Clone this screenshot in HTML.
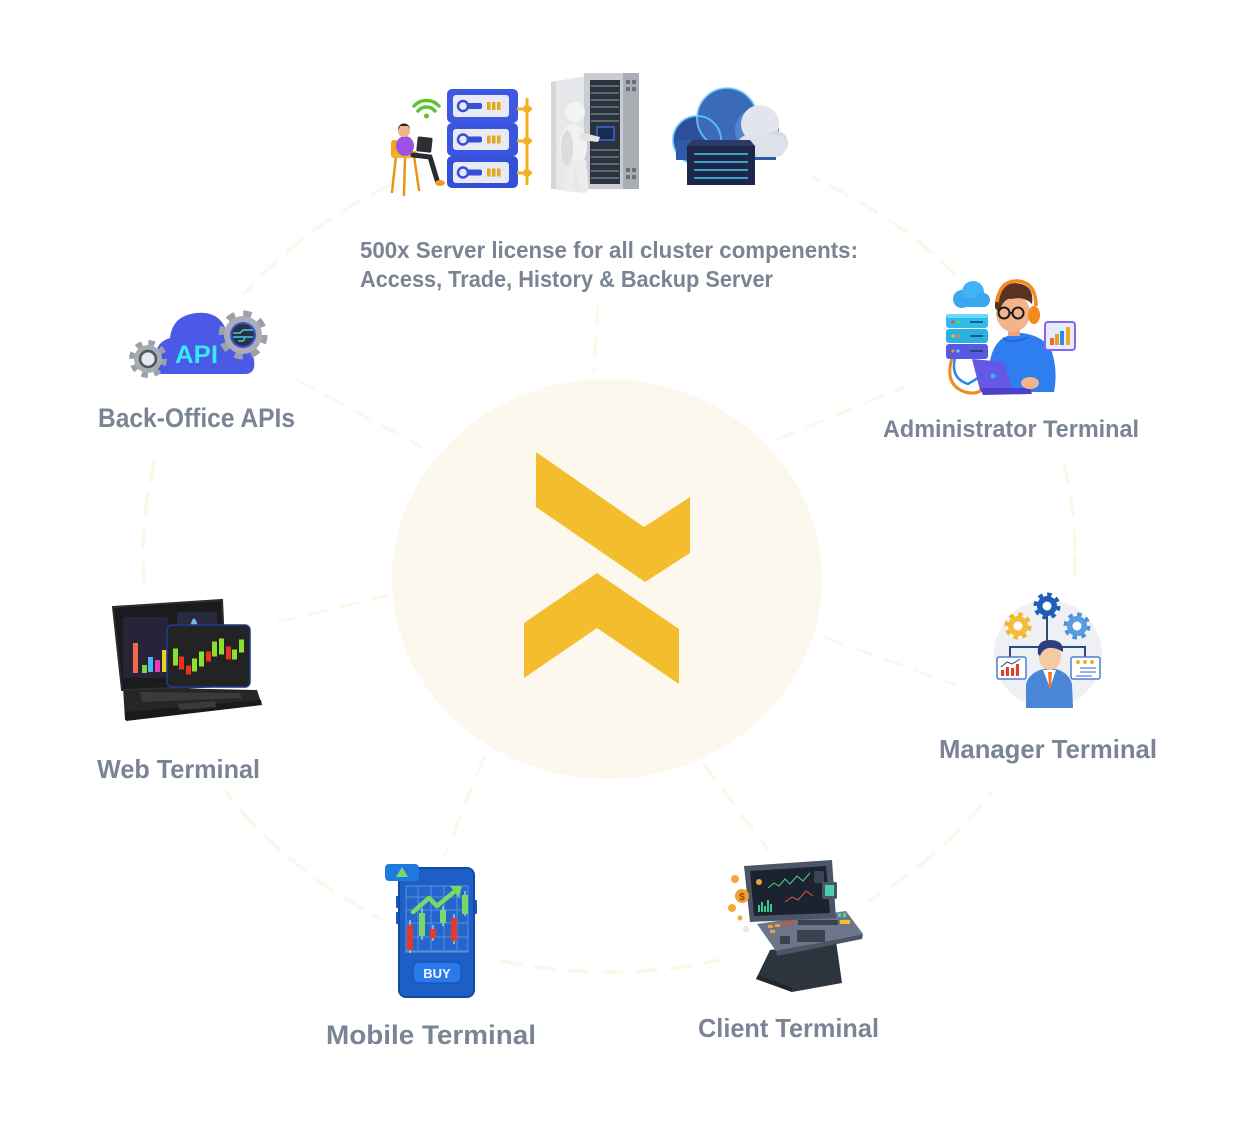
<!DOCTYPE html>
<html><head><meta charset="utf-8"><style>
html,body{margin:0;padding:0;background:#fff;}
svg{display:block;}
.lbl{font-family:"Liberation Sans",Arial,sans-serif;font-weight:bold;fill:#7b8494;}
</style></head><body>
<svg width="1250" height="1139" viewBox="0 0 1250 1139" xmlns="http://www.w3.org/2000/svg">
<rect width="1250" height="1139" fill="#fff"/>
<!-- big dashed ellipse -->
<ellipse cx="609" cy="554" rx="466" ry="418" fill="none" stroke="#fdf7ea" stroke-width="3.5" stroke-dasharray="22 12"/>
<!-- masks -->
<g fill="#fff">
<rect x="392" y="50" width="420" height="185"/>
<rect x="90" y="295" width="210" height="153"/>
<rect x="90" y="592" width="180" height="198"/>
<rect x="380" y="850" width="115" height="210"/>
<rect x="722" y="850" width="146" height="210"/>
<rect x="930" y="580" width="240" height="212"/>
<rect x="880" y="275" width="270" height="177"/>
</g>
<!-- radial dashed lines -->
<g stroke="#fdf7ea" stroke-width="3.2" stroke-dasharray="20 12" fill="none">
<line x1="598" y1="305" x2="594" y2="372"/>
<line x1="297" y1="380" x2="422" y2="447"/>
<line x1="776" y1="440" x2="904" y2="387"/>
<line x1="390" y1="595" x2="278" y2="622"/>
<line x1="484" y1="757" x2="444" y2="857"/>
<line x1="703" y1="763" x2="768" y2="850"/>
<line x1="824" y1="637" x2="955" y2="685"/>
</g>
<!-- center -->
<ellipse cx="607" cy="579" rx="215" ry="200" fill="#fdf8ee"/>
<polygon points="536,452 644,527 690,497 690,553 645,582 536,507" fill="#f3bd2d"/>
<polygon points="524,623 597,573 679,629 679,684 597,628 524,678" fill="#f3bd2d"/>

<!-- ===== TOP: person + servers ===== -->
<g>
<g fill="none" stroke="#5fc232" stroke-width="3.5" stroke-linecap="round">
<path d="M414,106 A17,17 0 0 1 439,106"/>
<path d="M418,111 A11,11 0 0 1 435,111"/>
</g>
<circle cx="426.5" cy="116" r="2.5" fill="#5fc232"/>
<g stroke="#e8941a" stroke-width="2.5" stroke-linecap="round">
<line x1="396" y1="156" x2="392" y2="192"/>
<line x1="405" y1="157" x2="404" y2="195"/>
<line x1="414" y1="156" x2="419" y2="190"/>
</g>
<rect x="391" y="140" width="8" height="18" rx="3" fill="#f2a71e"/>
<rect x="392" y="151" width="26" height="7" rx="3" fill="#f5b026"/>
<path d="M413,155 L430,157 L437,180" stroke="#2a2a33" stroke-width="5" fill="none" stroke-linecap="round"/>
<ellipse cx="440" cy="183" rx="5" ry="3" fill="#f09a2a"/>
<ellipse cx="405" cy="146" rx="9" ry="10" fill="#9c52e6"/>
<circle cx="404" cy="131" r="6" fill="#f0b48a"/>
<path d="M398,130 a6,6 0 0 1 12,-1 l-2,-3 -8,0z" fill="#2a2230"/>
<rect x="417" y="137" width="15" height="15" rx="1.5" fill="#2d2d33" transform="rotate(6 424 144)"/>
<g>
<rect x="447" y="89" width="71" height="34" rx="5" fill="#3d58e2"/>
<rect x="447" y="123" width="71" height="33" rx="5" fill="#3a55df"/>
<rect x="447" y="156" width="71" height="32" rx="5" fill="#3550d8"/>
<rect x="453" y="95" width="56" height="22" rx="3" fill="#e9eaf4"/>
<rect x="453" y="129" width="56" height="21" rx="3" fill="#e9eaf4"/>
<rect x="453" y="162" width="56" height="21" rx="3" fill="#e9eaf4"/>
<g fill="none" stroke="#3550d8" stroke-width="2.5">
<circle cx="463" cy="106" r="5"/><circle cx="463" cy="139.5" r="5"/><circle cx="463" cy="172.5" r="5"/>
</g>
<g fill="#3550d8">
<rect x="467" y="103" width="15" height="6" rx="2"/><rect x="467" y="136.5" width="15" height="6" rx="2"/><rect x="467" y="169.5" width="15" height="6" rx="2"/>
</g>
<g fill="#e2a81e">
<rect x="487" y="102" width="3.5" height="8"/><rect x="492" y="102" width="3.5" height="8"/><rect x="497" y="102" width="3.5" height="8"/>
<rect x="487" y="135.5" width="3.5" height="8"/><rect x="492" y="135.5" width="3.5" height="8"/><rect x="497" y="135.5" width="3.5" height="8"/>
<rect x="487" y="168.5" width="3.5" height="8"/><rect x="492" y="168.5" width="3.5" height="8"/><rect x="497" y="168.5" width="3.5" height="8"/>
</g>
<line x1="527" y1="98" x2="527" y2="185" stroke="#f0b020" stroke-width="3"/>
<g stroke="#f0b020" stroke-width="3"><line x1="517" y1="109" x2="532" y2="109"/><line x1="517" y1="141" x2="532" y2="141"/><line x1="517" y1="173" x2="532" y2="173"/></g>
<g fill="#f0b020"><circle cx="527" cy="109" r="4"/><circle cx="527" cy="141" r="4"/><circle cx="527" cy="173" r="4"/></g>
</g>
<g>
<polygon points="551,82 586,76 586,193 551,189" fill="#e6e7ea"/>
<polygon points="551,82 556,81 556,189 551,189" fill="#d3d5d9"/>
<rect x="584" y="73" width="55" height="116" fill="#c9ccd1"/>
<rect x="623" y="73" width="16" height="116" fill="#a9adb4"/>
<rect x="590" y="80" width="30" height="104" fill="#2c323c"/>
<g stroke="#6c7b8c" stroke-width="1.5">
<line x1="591" y1="86" x2="619" y2="86"/><line x1="591" y1="93" x2="619" y2="93"/><line x1="591" y1="100" x2="619" y2="100"/>
<line x1="591" y1="107" x2="619" y2="107"/><line x1="591" y1="114" x2="619" y2="114"/><line x1="591" y1="121" x2="619" y2="121"/>
<line x1="591" y1="150" x2="619" y2="150"/><line x1="591" y1="157" x2="619" y2="157"/><line x1="591" y1="164" x2="619" y2="164"/>
<line x1="591" y1="171" x2="619" y2="171"/><line x1="591" y1="178" x2="619" y2="178"/>
</g>
<g fill="#6a6f78">
<rect x="626" y="80" width="4" height="4"/><rect x="632" y="80" width="4" height="4"/><rect x="626" y="87" width="4" height="4"/><rect x="632" y="87" width="4" height="4"/>
<rect x="626" y="168" width="4" height="4"/><rect x="632" y="168" width="4" height="4"/><rect x="626" y="175" width="4" height="4"/><rect x="632" y="175" width="4" height="4"/>
</g>
<rect x="597" y="127" width="17" height="13" fill="#1a2a50" stroke="#3a6ad0" stroke-width="1.5"/>
<ellipse cx="573" cy="146" rx="14" ry="22" fill="#f1f1f1"/>
<circle cx="575" cy="112" r="10" fill="#f3f3f3"/>
<path d="M565,160 L563,191 L572,192 L575,165 L580,192 L589,191 L586,160z" fill="#ececec"/>
<path d="M580,132 L600,137 L598,142 L580,140z" fill="#e4e4e4"/>
<ellipse cx="567" cy="148" rx="6" ry="18" fill="#dcdcdc"/>
</g>
<g>
<circle cx="697" cy="140" r="24" fill="#2d4f9a"/>
<circle cx="727" cy="118" r="30" fill="#3a6ab8"/>
<circle cx="757" cy="130" r="22" fill="#4f86cc"/>
<circle cx="697" cy="140" r="24" fill="none" stroke="#5fd0ff" stroke-width="2" opacity="0.8"/>
<circle cx="727" cy="118" r="30" fill="none" stroke="#7ad8ff" stroke-width="2" opacity="0.7"/>
<rect x="676" y="140" width="100" height="20" fill="#2f5aa6"/>
<circle cx="760" cy="124" r="19" fill="#e2e5ec"/>
<circle cx="776" cy="143" r="12" fill="#d6dae3"/>
<rect x="738" y="135" width="48" height="22" rx="10" fill="#dde1e9"/>
<rect x="687" y="146" width="68" height="39" fill="#1c274a"/>
<polygon points="687,146 755,146 750,140 692,140" fill="#2b3a66"/>
<g stroke="#4fc8f0" stroke-width="1.5">
<line x1="694" y1="154" x2="748" y2="154"/><line x1="694" y1="162" x2="748" y2="162"/><line x1="694" y1="170" x2="748" y2="170"/><line x1="694" y1="178" x2="748" y2="178"/>
</g>
</g>
</g>

<!-- ===== API ===== -->
<g>
<path d="M160,374 L245,374 Q256,374 254,360 L250,340 Q240,328 228,336 Q222,310 196,313 Q172,316 170,338 Q156,342 156,356 Q155,374 160,374z" fill="#4a5ae6"/>
<text x="175" y="363" font-family="Liberation Sans,Arial,sans-serif" font-weight="bold" font-size="25" fill="#35e8f2" textLength="43" lengthAdjust="spacingAndGlyphs">API</text>
<circle cx="148" cy="359" r="16" fill="none" stroke="#9ca0a8" stroke-width="6" stroke-dasharray="6.3 6.3"/>
<circle cx="148" cy="359" r="14" fill="#a7abb3"/>
<circle cx="148" cy="359" r="8" fill="none" stroke="#505560" stroke-width="2.5"/>
<circle cx="148" cy="359" r="6.5" fill="#e6e8ec"/>
<circle cx="243" cy="335" r="21" fill="none" stroke="#9ca0a8" stroke-width="7" stroke-dasharray="8.2 8.3"/>
<circle cx="243" cy="335" r="19" fill="#a9adb5"/>
<circle cx="243" cy="335" r="13" fill="#3d4ed8"/>
<circle cx="243" cy="335" r="11" fill="#2c3142"/>
<g stroke="#3fd0d8" stroke-width="1.5" fill="none">
<path d="M233,333 L240,333 L243,330 L253,330"/><path d="M233,337 L247,337 L253,337"/><path d="M238,341 L243,341 L245,338"/>
</g>
</g>

<!-- ===== WEB laptop ===== -->
<g>
<polygon points="123,687 257,690 261,702 125,720" fill="#262628"/>
<polygon points="125,712 261,700 262,705 126,721" fill="#1a1a1c"/>
<g fill="#3a3a3d">
<polygon points="140,692 240,693 242,698 142,702"/>
<polygon points="178,704 215,701 216,707 180,710"/>
</g>
<polygon points="113,607 222,600 226,686 122,690" fill="#1b1b1e" stroke="#2d2d30" stroke-width="2"/>
<rect x="123" y="617" width="45" height="61" rx="2" fill="#272338"/>
<rect x="177" y="612" width="40" height="15" rx="2" fill="#272a40"/>
<path d="M190,627 Q194,610 198,627z" fill="#7ab8f0"/>
<rect x="133" y="643" width="5" height="30" fill="#f06a4a"/>
<rect x="142" y="665" width="5" height="8" fill="#7ad83a"/>
<rect x="148" y="657" width="5" height="15" fill="#4ab8f0"/>
<rect x="155" y="660" width="5" height="12" fill="#e83ab8"/>
<rect x="162" y="650" width="5" height="22" fill="#e8d020"/>
<rect x="167" y="625" width="83" height="62" rx="5" fill="#232323" stroke="#1d3c90" stroke-width="1.5"/>
<g stroke-width="1">
<g fill="#8ae02a" stroke="#8ae02a"><rect x="173.5" y="649" width="4" height="16"/><rect x="192.5" y="659" width="4" height="12"/><rect x="199.5" y="652" width="4" height="14"/><rect x="212.5" y="642" width="4" height="14"/><rect x="219.5" y="639" width="4" height="15"/><rect x="232.5" y="650" width="4" height="9"/><rect x="239.5" y="640" width="4" height="12"/></g>
<g fill="#f0301a" stroke="#f0301a"><rect x="179.5" y="657" width="4" height="12"/><rect x="186.5" y="666" width="4" height="8"/><rect x="206.5" y="652" width="4" height="9"/><rect x="226.5" y="647" width="4" height="12"/></g>
</g>
</g>

<!-- ===== ADMIN ===== -->
<g>
<circle cx="962" cy="299" r="9" fill="#3aaaf0"/>
<circle cx="973" cy="292" r="11" fill="#42b2f4"/>
<circle cx="983" cy="300" r="7" fill="#3aa6ee"/>
<rect x="955" y="298" width="33" height="9" rx="4" fill="#3aa6ee"/>
<path d="M952,358 Q944,385 965,392 Q980,396 985,385" fill="none" stroke="#f08a20" stroke-width="3"/>
<path d="M955,358 Q950,378 968,384 L978,378" fill="none" stroke="#2a8ae8" stroke-width="2.5"/>
<rect x="946" y="314" width="42" height="14" rx="3" fill="#30bce8"/>
<rect x="946" y="314" width="42" height="4" rx="2" fill="#6ad8f6"/>
<rect x="946" y="329" width="42" height="14" rx="3" fill="#2ab0e2"/>
<rect x="946" y="344" width="42" height="15" rx="3" fill="#5858e0"/>
<g><circle cx="953" cy="322" r="1.6" fill="#f04a4a"/><circle cx="958" cy="322" r="1.6" fill="#5ad84a"/><circle cx="953" cy="336" r="1.6" fill="#f0c020"/><circle cx="958" cy="336" r="1.6" fill="#f08a20"/><circle cx="953" cy="351" r="1.6" fill="#f08a20"/><circle cx="958" cy="351" r="1.6" fill="#5ad8f0"/></g>
<g stroke="#1a3a60" stroke-width="1.5"><line x1="970" y1="322" x2="983" y2="322"/><line x1="970" y1="336" x2="983" y2="336"/><line x1="970" y1="351" x2="983" y2="351"/></g>
<path d="M990,392 Q985,350 1003,338 Q1013,333 1022,333 Q1045,336 1052,352 Q1058,372 1054,392z" fill="#2f7ef0"/>
<path d="M1003,338 Q1013,345 1028,337" fill="none" stroke="#1f66d8" stroke-width="2"/>
<rect x="1008" y="326" width="12" height="10" fill="#eaa47e"/>
<ellipse cx="1013" cy="313" rx="17" ry="19" fill="#f2b48c"/>
<path d="M995,308 Q994,285 1015,283 Q1035,284 1032,304 Q1024,296 1012,299 Q1004,297 999,312z" fill="#5a3222"/>
<g fill="none" stroke="#1d1d1d" stroke-width="2"><circle cx="1004" cy="313" r="5.5"/><circle cx="1018" cy="313" r="5.5"/><line x1="1009.5" y1="313" x2="1012.5" y2="313"/></g>
<path d="M997,302 Q1000,280 1018,281 Q1036,283 1036,306" fill="none" stroke="#f58a1f" stroke-width="3.5"/>
<ellipse cx="1034" cy="315" rx="6" ry="9" fill="#f58a1f"/>
<polygon points="972,359 1004,362 1013,392 980,390" fill="#6658e6"/>
<polygon points="980,388 1030,388 1032,394 983,395" fill="#4c40c8"/>
<circle cx="993" cy="376" r="2.5" fill="#3ab0f0"/>
<ellipse cx="1030" cy="383" rx="9" ry="6" fill="#f2b48c"/>
<rect x="1045" y="322" width="30" height="28" rx="3" fill="#e4ecff" stroke="#8a62f0" stroke-width="2"/>
<g><rect x="1050" y="338" width="4" height="7" fill="#f06a30"/><rect x="1055" y="334" width="4" height="11" fill="#f09a20"/><rect x="1060" y="331" width="4" height="14" fill="#2a8ae8"/><rect x="1066" y="327" width="4" height="18" fill="#f0a820"/></g>
</g>

<!-- ===== MANAGER ===== -->
<g>
<circle cx="1048" cy="654" r="54" fill="#eff0f3"/>
<g stroke="#2a4a86" stroke-width="2" fill="none">
<line x1="1047" y1="615" x2="1047" y2="648"/>
<polyline points="1010,658 1010,647 1085,647 1085,658"/>
</g>
<circle cx="1047" cy="606" r="11.5" fill="none" stroke="#1f5eb8" stroke-width="4" stroke-dasharray="4.5 4.5"/>
<circle cx="1047" cy="606" r="10" fill="#1f5eb8"/><circle cx="1047" cy="606" r="4.5" fill="#fff"/>
<circle cx="1018" cy="626" r="11.5" fill="none" stroke="#f2b42a" stroke-width="4" stroke-dasharray="4.5 4.5"/>
<circle cx="1018" cy="626" r="10" fill="#f4bc3a"/><circle cx="1018" cy="626" r="4.5" fill="#fff"/>
<circle cx="1077" cy="626" r="11.5" fill="none" stroke="#4a90dc" stroke-width="4" stroke-dasharray="4.5 4.5"/>
<circle cx="1077" cy="626" r="10" fill="#5a9ce0"/><circle cx="1077" cy="626" r="4.5" fill="#fff"/>
<rect x="997" y="657" width="29" height="22" rx="2" fill="#fff" stroke="#4a80d0" stroke-width="1.5"/>
<g fill="#e83a2a"><rect x="1001" y="670" width="3" height="6"/><rect x="1006" y="667" width="3" height="9"/><rect x="1011" y="668" width="3" height="8"/><rect x="1016" y="664" width="3" height="12"/></g>
<polyline points="1001,667 1007,662 1012,664 1020,659" fill="none" stroke="#2a4a86" stroke-width="1"/>
<rect x="1071" y="657" width="29" height="22" rx="2" fill="#fff" stroke="#4a80d0" stroke-width="1.5"/>
<g fill="#f0b020"><circle cx="1078" cy="662" r="2"/><circle cx="1085" cy="662" r="2"/><circle cx="1092" cy="662" r="2"/></g>
<g stroke="#4a80d0" stroke-width="1.2"><line x1="1080" y1="668" x2="1096" y2="668"/><line x1="1080" y1="672" x2="1096" y2="672"/><line x1="1076" y1="676" x2="1092" y2="676"/></g>
<path d="M1026,708 L1026,684 Q1030,670 1050,668 Q1068,670 1072,684 L1073,708z" fill="#4a86d8"/>
<polygon points="1043,670 1050,688 1056,670" fill="#fff"/>
<polygon points="1048,672 1052,672 1051,688 1049,688" fill="#f07a2a"/>
<ellipse cx="1050" cy="657" rx="11" ry="13" fill="#f6caa2"/>
<path d="M1038,654 Q1036,640 1050,640 Q1064,640 1063,652 Q1056,647 1048,648 Q1042,650 1040,656z" fill="#2b3f7c"/>
</g>

<!-- ===== MOBILE ===== -->
<g>
<rect x="396" y="896" width="4" height="12" rx="1" fill="#1a56c0"/>
<rect x="396" y="912" width="4" height="12" rx="1" fill="#1a56c0"/>
<rect x="473" y="900" width="4" height="14" rx="1" fill="#1a56c0"/>
<rect x="399" y="868" width="75" height="129" rx="7" fill="#1e5fc6" stroke="#1149a8" stroke-width="2"/>
<rect x="406" y="886" width="62" height="66" fill="#2366cc"/>
<g stroke="#5b8fdc" stroke-width="1">
<line x1="406" y1="897" x2="468" y2="897"/><line x1="406" y1="910" x2="468" y2="910"/><line x1="406" y1="923" x2="468" y2="923"/><line x1="406" y1="937" x2="468" y2="937"/><line x1="406" y1="951" x2="468" y2="951"/>
<line x1="418" y1="886" x2="418" y2="952"/><line x1="431" y1="886" x2="431" y2="952"/><line x1="444" y1="886" x2="444" y2="952"/><line x1="457" y1="886" x2="457" y2="952"/>
<rect x="406" y="886" width="62" height="66" fill="none"/>
</g>
<g stroke="#f0f0f0" stroke-width="1"><line x1="410" y1="920" x2="410" y2="953"/><line x1="422" y1="908" x2="422" y2="940"/><line x1="433" y1="925" x2="433" y2="941"/><line x1="443" y1="906" x2="443" y2="926"/><line x1="454" y1="914" x2="454" y2="944"/><line x1="465" y1="891" x2="465" y2="916"/></g>
<g fill="#e8382a"><rect x="407" y="925" width="6" height="25"/><rect x="430" y="929" width="6" height="9"/><rect x="451" y="918" width="6" height="23"/></g>
<g fill="#7ad866"><rect x="419" y="913" width="6" height="23"/><rect x="440" y="910" width="6" height="13"/><rect x="462" y="895" width="6" height="19"/></g>
<polyline points="413,912 429,898 437,906 454,892" fill="none" stroke="#7ad866" stroke-width="4.5" stroke-linejoin="round" stroke-linecap="round"/>
<polygon points="450,886 462,886 459,898" fill="#7ad866"/>
<rect x="385" y="864" width="34" height="17" rx="4" fill="#1f7ae0"/>
<polygon points="402,867 408,877 396,877" fill="#7ad866"/>
<rect x="413" y="962" width="48" height="21" rx="6" fill="#2a7aea" stroke="#1758c0" stroke-width="1.5"/>
<text x="437" y="978" text-anchor="middle" font-family="Liberation Sans,Arial,sans-serif" font-weight="bold" font-size="13" fill="#f2f6ff">BUY</text>
</g>

<!-- ===== CLIENT ===== -->
<g>
<polygon points="770,950 836,941 842,983 792,992 756,979" fill="#2e343e"/>
<polygon points="756,979 792,992 792,988 758,975" fill="#22262e"/>
<polygon points="757,924 846,911 863,934 776,951" fill="#6b7788"/>
<polygon points="776,951 863,934 862,939 777,956" fill="#4c5563"/>
<g fill="#f0a030"><rect x="768" y="925" width="5" height="3"/><rect x="775" y="924" width="5" height="3"/><rect x="770" y="930" width="5" height="3"/></g>
<g fill="#e84a3a"><rect x="782" y="922" width="5" height="3"/><rect x="789" y="921" width="5" height="3"/></g>
<g fill="#3a4250"><rect x="780" y="936" width="10" height="8"/><rect x="797" y="930" width="28" height="12"/><rect x="798" y="920" width="40" height="5"/></g>
<g fill="#f0c030"><rect x="840" y="920" width="10" height="4"/></g>
<g fill="#5ad0a0"><rect x="838" y="913" width="3" height="4"/><rect x="843" y="913" width="3" height="4"/></g>
<polygon points="744,866 832,860 836,918 750,922" fill="#4b5566"/>
<polygon points="750,871 826,866 830,913 754,916" fill="#1c2330"/>
<polyline points="768,888 774,883 779,886 785,879 790,884 797,876 803,881 810,873" fill="none" stroke="#4ad08a" stroke-width="1"/>
<polyline points="785,902 792,897 798,900 806,891 813,896" fill="none" stroke="#e8503a" stroke-width="1"/>
<g fill="#3ac890"><rect x="758" y="905" width="2" height="7"/><rect x="761" y="902" width="2" height="10"/><rect x="764" y="906" width="2" height="6"/><rect x="767" y="900" width="2" height="12"/><rect x="770" y="904" width="2" height="8"/></g>
<circle cx="759" cy="882" r="3" fill="#f0a030"/>
<rect x="814" y="871" width="10" height="12" fill="#3a4454"/>
<rect x="822" y="882" width="15" height="17" rx="2" fill="#4a5566"/>
<rect x="825" y="885" width="9" height="11" fill="#4ad0b0"/>
<circle cx="742" cy="896" r="7" fill="#f0a030"/>
<text x="742" y="900" text-anchor="middle" font-family="Liberation Sans,Arial,sans-serif" font-weight="bold" font-size="10" fill="#8a4a10">$</text>
<circle cx="735" cy="879" r="4" fill="#f2a83a"/>
<circle cx="732" cy="908" r="4" fill="#f2a83a"/>
<circle cx="740" cy="918" r="2.5" fill="#f2a83a"/>
<circle cx="746" cy="929" r="3" fill="#e8e8e8"/>
</g>

<!-- ===== LABELS ===== -->
<text class="lbl" x="360" y="258" font-size="23" textLength="498" lengthAdjust="spacingAndGlyphs">500x Server license for all cluster compenents:</text>
<text class="lbl" x="360" y="287" font-size="23" textLength="413" lengthAdjust="spacingAndGlyphs">Access, Trade, History &amp; Backup Server</text>
<text class="lbl" x="98" y="427" font-size="27" textLength="197" lengthAdjust="spacingAndGlyphs">Back-Office APIs</text>
<text class="lbl" x="883" y="437" font-size="24" textLength="256" lengthAdjust="spacingAndGlyphs">Administrator Terminal</text>
<text class="lbl" x="939" y="758" font-size="26" textLength="218" lengthAdjust="spacingAndGlyphs">Manager Terminal</text>
<text class="lbl" x="97" y="778" font-size="26" textLength="163" lengthAdjust="spacingAndGlyphs">Web Terminal</text>
<text class="lbl" x="326" y="1044" font-size="27" textLength="210" lengthAdjust="spacingAndGlyphs">Mobile Terminal</text>
<text class="lbl" x="698" y="1037" font-size="26" textLength="181" lengthAdjust="spacingAndGlyphs">Client Terminal</text>
</svg>
</body></html>
